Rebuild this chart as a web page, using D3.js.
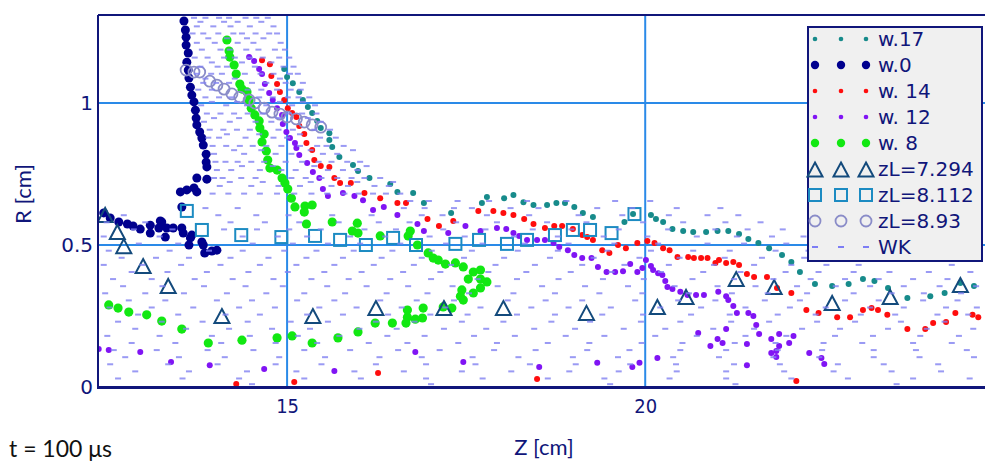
<!DOCTYPE html>
<html>
<head>
<meta charset="utf-8">
<style>
	body { margin: 0; background: #fff; }
	svg { display: block; }
</style>
</head>
<body>
<svg width="985" height="461"></svg>
<script src="https://d3js.org/d3.v7.min.js"></script>
<script>
	// series, [Z cm, R cm]
	var w17 = [ [14.96,1.120],[15.00,1.092],[15.08,1.070],[15.17,1.039],[15.22,1.011],[15.29,0.986],
		[15.35,0.965],[15.42,0.937],[15.47,0.912],[15.59,0.894],[15.59,0.870],[15.63,0.845],[15.73,0.810],
		[15.92,0.782],[15.99,0.761],[16.15,0.736],[16.44,0.715],[16.54,0.687],[16.76,0.683],[16.91,0.648],
		[17.29,0.613],[17.72,0.648],[17.79,0.669],[18.03,0.665],[18.16,0.676],[18.30,0.651],[18.44,0.641],
		[18.63,0.641],[18.76,0.648],[18.88,0.648],[19.01,0.634],[19.13,0.613],[19.27,0.599],[19.71,0.581],
		[19.83,0.609],[20.08,0.606],[20.15,0.592],[20.25,0.581],[20.38,0.556],[20.53,0.549],[20.67,0.546],
		[20.85,0.546],[21.01,0.549],[21.16,0.549],[21.31,0.539],[21.44,0.521],[21.58,0.507],[21.73,0.489],
		[21.91,0.465],[22.04,0.440],[22.16,0.405],[22.37,0.363],[22.61,0.356],[22.84,0.363],[23.04,0.380],
		[23.20,0.373],[23.39,0.349],[23.66,0.313],[23.98,0.320],[24.18,0.331],[24.40,0.366],[24.59,0.356] ];

	var w0 = [ [13.56,1.289],[13.58,1.257],[13.59,1.232],[13.59,1.204],[13.62,1.176],[13.60,1.144],
		[13.62,1.116],[13.63,1.088],[13.65,1.056],[13.67,1.028],[13.70,1.004],[13.72,0.975],[13.73,0.947],
		[13.74,0.923],[13.78,0.898],[13.81,0.877],[13.83,0.852],[13.87,0.820],[13.87,0.792],[13.88,0.775],
		[13.74,0.736],[13.88,0.732],[13.70,0.701],[13.60,0.694],[13.51,0.687],[13.74,0.687],[13.53,0.634],
		[12.44,0.613],[12.53,0.595],[12.65,0.581],[12.77,0.574],[12.85,0.567],[12.95,0.556],[13.09,0.570],
		[13.23,0.585],[13.25,0.581],[13.09,0.542],[13.21,0.560],[13.32,0.560],[13.30,0.528],[13.41,0.560],
		[13.53,0.560],[13.55,0.542],[13.67,0.535],[13.65,0.525],[13.63,0.500],[13.81,0.511],[13.83,0.500],
		[13.85,0.472],[13.95,0.479],[14.02,0.482] ];

	var w14 = [ [14.65,1.151],[14.76,1.137],[14.78,1.095],[14.86,1.067],[14.90,1.039],[14.96,1.011],
		[15.01,0.982],[15.07,0.965],[15.13,0.951],[15.17,0.919],[15.24,0.891],[15.27,0.859],[15.35,0.835],
		[15.38,0.799],[15.47,0.778],[15.59,0.775],[15.66,0.736],[15.74,0.718],[15.89,0.718],[16.08,0.683],
		[16.30,0.665],[16.54,0.648],[16.66,0.648],[16.96,0.592],[17.12,0.567],[17.32,0.585],[17.67,0.620],
		[17.88,0.620],[18.02,0.613],[18.16,0.606],[18.31,0.592],[18.44,0.574],[18.60,0.560],[18.73,0.567],
		[18.84,0.567],[18.99,0.556],[19.12,0.535],[19.19,0.528],[19.27,0.518],[19.40,0.482],[19.50,0.472],
		[19.62,0.500],[19.73,0.489],[19.89,0.507],[20.03,0.514],[20.13,0.507],[20.25,0.489],[20.34,0.482],
		[20.45,0.458],[20.60,0.458],[20.68,0.454],[20.78,0.454],[20.87,0.454],[20.98,0.437],[21.03,0.447],
		[21.13,0.437],[21.23,0.440],[21.31,0.430],[21.42,0.398],[21.52,0.387],[21.70,0.387],[21.84,0.349],
		[22.04,0.331],[22.25,0.271],[22.42,0.261],[22.68,0.246],[22.86,0.246],[23.04,0.271],[23.16,0.278],
		[23.25,0.271],[23.38,0.254],[23.66,0.204],[23.91,0.204],[24.02,0.225],[24.20,0.229],[24.33,0.261],
		[24.57,0.254],[24.65,0.246],
		[14.29,0.011],[15.10,0.018],[16.27,0.049],[18.49,0.028],[22.11,0.021] ];

	var w12 = [ [14.47,1.162],[14.54,1.148],[14.61,1.120],[14.65,1.102],[14.69,1.067],[14.75,1.035],
		[14.80,1.011],[14.86,0.982],[14.93,0.958],[14.94,0.926],[14.99,0.898],[15.04,0.877],[15.11,0.859],
		[15.13,0.842],[15.17,0.817],[15.28,0.789],[15.36,0.757],[15.45,0.736],[15.50,0.697],[15.57,0.673],
		[15.78,0.683],[15.94,0.673],[16.06,0.658],[16.20,0.623],[16.35,0.634],[16.54,0.606],[16.82,0.574],
		[16.91,0.549],[17.25,0.542],[17.49,0.567],[17.70,0.549],[17.93,0.560],[18.06,0.556],[18.16,0.542],
		[18.24,0.532],[18.35,0.518],[18.49,0.518],[18.60,0.518],[18.72,0.507],[18.80,0.493],[18.92,0.482],
		[19.01,0.465],[19.12,0.454],[19.25,0.454],[19.34,0.423],[19.46,0.405],[19.58,0.405],[19.69,0.408],
		[19.79,0.433],[19.89,0.405],[19.96,0.419],[20.01,0.447],[20.08,0.426],[20.11,0.412],[20.18,0.401],
		[20.24,0.394],[20.28,0.373],[20.31,0.352],[20.38,0.345],[20.49,0.335],[20.59,0.324],[20.71,0.324],
		[20.82,0.324],[21.02,0.335],[21.13,0.320],[21.16,0.306],[21.23,0.285],[21.28,0.261],[21.44,0.261],
		[21.51,0.250],[21.55,0.218],[21.59,0.187],[21.76,0.169],[21.87,0.187],[22.07,0.180],[22.01,0.155],
		[21.87,0.144],[21.83,0.127],[21.76,0.120],[21.83,0.106],[22.29,0.120],[22.46,0.102],[22.50,0.081],
		[21.13,0.204],[20.74,0.190],[21.01,0.169],[21.08,0.155],[20.91,0.144],[21.42,0.151],[21.42,0.077],
		[20.17,0.102],[19.92,0.085],[19.82,0.070],[19.33,0.085],[18.52,0.070],[17.46,0.088],[16.79,0.123],
		[15.66,0.056],[14.68,0.063],[13.92,0.077],[13.38,0.088],[12.95,0.123],[12.51,0.130],[12.37,0.134] ];

	var w8 = [ [14.16,1.222],[14.19,1.183],[14.20,1.162],[14.26,1.134],[14.29,1.102],[14.34,1.067],
		[14.37,1.049],[14.44,1.039],[14.47,1.011],[14.50,0.982],[14.55,0.958],[14.61,0.937],[14.62,0.912],
		[14.68,0.891],[14.65,0.863],[14.71,0.831],[14.73,0.799],[14.76,0.771],[14.86,0.764],[14.93,0.736],
		[14.97,0.718],[15.01,0.697],[15.06,0.665],[15.11,0.634],[15.25,0.637],[15.35,0.641],[15.24,0.616],
		[15.27,0.574],[15.63,0.581],[15.98,0.577],[15.91,0.549],[15.99,0.542],[16.30,0.532],[16.69,0.532],
		[16.72,0.549],[16.82,0.500],[16.97,0.472],[17.04,0.454],[17.11,0.447],[17.21,0.433],[17.35,0.437],
		[17.46,0.423],[17.60,0.405],[17.70,0.412],[17.53,0.380],[17.70,0.380],[17.79,0.370],[17.70,0.349],
		[17.60,0.331],[17.44,0.342],[17.42,0.320],[17.46,0.306],[17.30,0.278],[17.18,0.282],[16.90,0.278],
		[16.89,0.243],[16.79,0.239],[16.68,0.246],[16.68,0.271],[16.66,0.225],[16.47,0.225],[16.23,0.225],
		[15.99,0.194],[15.71,0.173],[15.35,0.155],[15.07,0.180],[14.86,0.173],[14.37,0.165],[13.90,0.155],
		[13.53,0.204],[13.25,0.232],[13.04,0.254],[12.79,0.264],[12.64,0.278],[12.51,0.289] ];

	var zL7294 = [ [12.46,0.606],[12.63,0.546],[12.72,0.496],[12.99,0.426],[13.34,0.356],[14.09,0.250],
		[15.36,0.250],[16.24,0.278],[17.19,0.278],[18.02,0.278],[19.18,0.261],[20.17,0.282],[20.57,0.317],
		[21.27,0.380],[21.80,0.352],[22.61,0.296],[23.42,0.317],[24.40,0.359] ];

	var zL8112 = [ [13.60,0.620],[13.81,0.553],[14.36,0.535],[14.92,0.528],[15.39,0.532],[15.74,0.518],
		[16.10,0.500],[16.48,0.525],[16.80,0.500],[17.35,0.504],[17.68,0.518],[18.07,0.504],[18.35,0.518],
		[18.74,0.535],[18.99,0.553],[19.23,0.553],[19.53,0.542],[19.85,0.609] ];

	var zL893 = [ [13.59,1.116],[13.70,1.109],[13.78,1.109],[13.92,1.077],[14.02,1.063],[14.12,1.049],
		[14.23,1.032],[14.34,1.021],[14.47,1.011],[14.55,1.000],[14.68,0.982],[14.79,0.968],[14.90,0.961],
		[15.00,0.951],[15.13,0.944],[15.24,0.933],[15.35,0.923],[15.47,0.915] ];

	// WK dashes, one row per R value: [R, [Z, Z, ...]]
	var wkRows = [
		[1.300, [13.70,13.86,14.05,14.19,14.42,14.57,14.73]],
		[1.286, [13.79,14.12,14.31,14.64]],
		[1.270, [13.74,13.97,14.21,14.48,14.81]],
		[1.245, [13.68,13.83,14.04,14.25,14.37,14.56,14.75,14.86]],
		[1.228, [13.90,14.16,14.44,14.67]],
		[1.212, [13.74,13.99,14.31,14.53,14.91]],
		[1.188, [13.81,14.07,14.20,14.43,14.60,14.83,14.97]],
		[1.160, [13.71,13.89,14.12,14.27,14.48,14.66,14.89,15.03]],
		[1.143, [13.95,14.37,14.78]],
		[1.128, [13.79,14.03,14.16,14.55,14.95,15.09]],
		[1.103, [13.74,13.94,14.09,14.41,14.63,14.81,15.04,15.15]],
		[1.086, [13.86,14.27,14.90]],
		[1.071, [13.83,14.01,14.19,14.51,14.71,14.98,15.22]],
		[1.047, [13.76,13.95,14.45,14.64,14.86,15.05,15.19]],
		[1.020, [13.86,14.05,14.22,14.61,14.80,15.01,15.16,15.31]],
		[1.004, [13.95,14.30,14.90,15.22]],
		[0.992, [13.80,14.15,14.44,14.71,15.07,15.39]],
		[0.963, [13.88,14.07,14.26,14.45,14.66,15.02,15.21,15.41]],
		[0.947, [13.98,14.33,14.88,15.29]],
		[0.934, [13.84,14.20,14.56,14.78,15.47]],
		[0.906, [13.92,14.11,14.30,14.48,14.88,15.08,15.38,15.60]],
		[0.890, [14.16,14.61,15.18]],
		[0.878, [13.90,14.05,14.42,14.81,15.00,15.46,15.68]],
		[0.849, [13.96,14.15,14.34,14.52,14.71,14.92,15.18,15.42,15.55,15.79]],
		[0.834, [14.26,14.64,15.33,15.92]],
		[0.821, [13.98,14.40,14.84,15.06,15.50,15.70]],
		[0.793, [14.00,14.14,14.31,14.50,14.68,14.98,15.21,15.44,15.62,15.84,16.02]],
		[0.778, [14.37,14.80,15.38,16.11]],
		[0.764, [14.02,14.22,14.62,14.92,15.12,15.57,15.78,15.98]],
		[0.736, [13.98,14.10,14.36,14.56,15.06,15.26,15.48,15.70,15.90,16.08,16.30]],
		[0.722, [14.20,14.66,15.33,15.98,16.48]],
		[0.708, [14.06,14.50,14.88,15.18,15.62,15.85,16.22,16.42]],
		[0.681, [13.96,14.18,14.40,14.62,14.86,15.10,15.34,15.56,15.80,16.00,16.20,16.38,16.58]],
		[0.655, [16.72,16.98,17.38,17.82,18.35,18.90,19.58,20.07]],
		[0.630, [13.86,14.31,16.63,16.92,17.33,17.58,18.12,18.51,19.33,19.82,20.44,21.05]],
		[0.605, [12.72,14.04,14.57,15.02,15.63,16.18,16.88,17.17,17.79,18.38,19.07,19.68,20.33,20.87,21.30]],
		[0.580, [12.48,13.02,14.21,14.69,15.17,15.72,16.28,16.71,17.36,17.93,18.63,19.18,19.97,20.53,21.12,21.61]],
		[0.555, [12.86,13.40,14.12,14.58,15.03,15.47,16.08,16.52,17.18,17.77,18.43,18.97,19.63,20.32,20.98,21.43,21.92]],
		[0.530, [12.44,13.22,14.38,14.87,15.28,15.88,16.37,16.99,17.48,18.17,18.78,19.42,20.03,20.72,21.28,21.77,22.21,22.66]],
		[0.505, [12.93,13.48,14.52,15.08,15.57,16.02,16.58,17.22,17.73,18.32,18.93,19.57,20.18,20.87,21.38,21.97,22.41,23.12]],
		[0.480, [12.51,13.36,13.91,14.38,14.96,15.41,15.93,16.47,17.02,17.58,18.22,18.78,19.47,20.08,20.67,21.18,21.82,22.28,22.77,23.35,23.91]],
		[0.455, [12.69,13.17,13.63,14.21,14.74,15.27,15.78,16.32,16.88,17.47,18.03,18.67,19.28,19.92,20.48,21.11,21.63,22.22,22.62,23.02,23.58,24.37]],
		[0.430, [12.44,12.98,13.52,14.07,14.62,15.13,15.66,16.21,16.77,17.29,17.91,18.46,19.12,19.71,20.33,20.96,21.52,22.04,22.53,22.98,24.28]],
		[0.405, [12.83,13.33,13.88,14.46,15.01,15.52,16.04,16.62,17.14,17.81,18.34,18.96,19.53,20.22,20.81,21.33,21.96,22.42,22.91,23.41,23.96,24.54]],
		[0.380, [12.57,13.11,13.71,14.24,14.81,15.34,15.86,16.44,17.01,17.66,18.21,18.79,19.41,19.98,20.66,21.24,21.79,22.31,22.79,23.26,23.74,24.22]],
		[0.355, [12.71,13.26,13.84,14.42,14.94,15.56,16.11,16.69,17.31,17.94,18.56,19.16,19.76,20.41,21.01,21.54,22.12,22.66,23.14,23.61,24.11,24.62]],
		[0.330, [12.46,13.02,13.56,14.16,14.71,15.24,15.81,16.39,16.96,17.54,18.16,18.74,19.36,19.96,20.61,21.21,21.71,22.26,22.91,23.44,23.89,24.41]],
		[0.305, [12.79,13.30,14.02,14.51,15.14,15.66,16.30,16.81,17.33,18.08,18.61,19.12,19.86,20.46,20.98,21.67,22.16,22.79,23.26,23.88,24.36]],
		[0.280, [12.52,13.11,13.69,14.33,14.83,15.45,15.97,16.60,17.21,17.70,18.41,18.93,19.52,20.21,20.78,21.40,22.02,22.52,23.14,23.61,24.20,24.63]],
		[0.255, [12.92,13.48,14.14,14.62,15.28,15.78,16.41,17.00,17.52,18.21,18.74,19.40,19.97,20.64,21.18,21.85,22.38,23.01,23.49,24.08,24.51]],
		[0.230, [12.64,13.25,13.82,14.45,15.05,15.57,16.24,16.78,17.44,18.02,18.69,19.23,19.94,20.49,21.20,21.73,22.40,22.93,23.57,24.18]],
		[0.205, [12.88,13.59,14.19,14.79,15.32,16.01,16.53,17.19,17.78,18.45,19.02,19.70,20.28,20.95,21.52,22.19,22.72,23.39,23.93,24.58]],
		[0.180, [12.49,13.22,13.95,14.48,15.15,15.73,16.40,16.92,17.61,18.18,18.89,19.43,20.14,20.72,21.40,21.97,22.65,23.18,23.84,24.38]],
		[0.155, [12.83,13.44,14.08,14.84,15.42,16.14,16.68,17.39,17.93,18.64,19.22,19.95,20.52,21.25,21.82,22.49,23.03,23.74,24.28]],
		[0.130, [12.58,13.18,13.89,14.53,15.24,15.88,16.55,17.13,17.89,18.47,19.19,19.78,20.49,21.13,21.85,22.47,23.19,23.78,24.49]],
		[0.105, [12.74,13.49,14.13,14.89,15.53,16.29,16.88,17.59,18.23,18.99,19.62,20.39,21.03,21.79,22.43,23.19,23.83,24.59]],
		[0.080, [12.53,13.34,14.03,14.84,15.48,16.24,16.94,17.63,18.39,19.03,19.79,20.43,21.24,21.88,22.69,23.33,24.09]],
		[0.055, [12.88,13.63,14.44,15.13,15.94,16.63,17.44,18.13,18.94,19.63,20.44,21.13,21.94,22.63,23.44,24.13]],
		[0.030, [12.64,13.54,14.33,15.24,16.03,16.94,17.73,18.64,19.43,20.34,21.13,22.04,22.83,23.74,24.53]],
		[0.010, [14.51,17.01,19.51,21.26,23.51]]
	];

	var zTicks = [15, 20];
	var rTicks = [0, 0.5, 1];
	var gridZ = [15, 20];
	var gridR = [0.5, 1];

	var legendNames = ["w.17", "w.0", "w. 14", "w. 12", "w. 8", "zL=7.294", "zL=8.112", "zL=8.93", "WK"];

	var navy = "#10167a", gridBlue = "#2a8ae8";

	var svg = d3.select("svg");
	var x = d3.scaleLinear().domain([12.36, 24.73]).range([98, 984]);
	var y = d3.scaleLinear().domain([0, 1.31]).range([387, 15]);

	svg.append("defs").append("clipPath").attr("id", "plotclip")
		.append("rect").attr("x", 98).attr("y", 15).attr("width", 887).attr("height", 372);

	// grid
	var grid = svg.append("g").attr("stroke", gridBlue).attr("stroke-width", 2);
	grid.selectAll(".gz").data(gridZ).enter().append("line")
		.attr("x1", function(d) { return x(d); }).attr("x2", function(d) { return x(d); })
		.attr("y1", y(1.31)).attr("y2", y(0));
	grid.selectAll(".gr").data(gridR).enter().append("line")
		.attr("x1", x(12.36)).attr("x2", 985)
		.attr("y1", function(d) { return y(d); }).attr("y2", function(d) { return y(d); });

	var plot = svg.append("g").attr("clip-path", "url(#plotclip)");

	function dots(data, r, color) {
		plot.append("g").attr("fill", color).selectAll("circle").data(data).enter().append("circle")
			.attr("cx", function(d) { return x(d[0]); })
			.attr("cy", function(d) { return y(d[1]); })
			.attr("r", r);
	}

	dots(w17, 3, "#178b8b");
	dots(w0, 4.5, "#00008e");
	dots(w14, 3, "#ff0d0d");
	dots(w12, 3, "#8014f4");
	dots(w8, 4.6, "#12e812");

	var triPath = "M0,-7L7.5,7L-7.5,7Z";
	plot.append("g").attr("fill", "none").attr("stroke", "#134a7c").attr("stroke-width", 2)
		.selectAll("path").data(zL7294).enter().append("path")
		.attr("d", triPath)
		.attr("transform", function(d) { return "translate(" + x(d[0]) + "," + y(d[1]) + ")"; });

	plot.append("g").attr("fill", "none").attr("stroke", "#1c8bc2").attr("stroke-width", 2)
		.selectAll("rect").data(zL8112).enter().append("rect")
		.attr("x", function(d) { return x(d[0]) - 6; })
		.attr("y", function(d) { return y(d[1]) - 6; })
		.attr("width", 12).attr("height", 12);

	plot.append("g").attr("fill", "none").attr("stroke", "#8a8cc8").attr("stroke-width", 1.8)
		.selectAll("circle").data(zL893).enter().append("circle")
		.attr("cx", function(d) { return x(d[0]); })
		.attr("cy", function(d) { return y(d[1]); })
		.attr("r", 5.5);

	var wk = [];
	wkRows.forEach(function(row) {
		row[1].forEach(function(z) { wk.push([z, row[0]]); });
	});
	plot.append("g").attr("fill", "#8282f2").attr("opacity", 0.8)
		.selectAll("rect").data(wk).enter().append("rect")
		.attr("x", function(d) { return x(d[0]) - 3; })
		.attr("y", function(d) { return y(d[1]) - 1; })
		.attr("width", 6).attr("height", 2);

	// frame
	var frame = svg.append("g").attr("stroke", navy).attr("fill", "none");
	frame.append("line").attr("x1", 98).attr("x2", 985).attr("y1", 15).attr("y2", 15).attr("stroke-width", 2);
	frame.append("line").attr("x1", 98).attr("x2", 98).attr("y1", 15).attr("y2", 388).attr("stroke-width", 2);
	frame.append("line").attr("x1", 97).attr("x2", 985).attr("y1", 387.5).attr("y2", 387.5).attr("stroke-width", 3);

	// axes (labels only)
	var ax = svg.append("g").attr("transform", "translate(0,387)")
		.call(d3.axisBottom(x).tickValues(zTicks).tickSize(0).tickPadding(12).tickFormat(d3.format("d")));
	ax.select(".domain").remove();
	ax.selectAll("text").attr("fill", navy).attr("font-size", "20px").attr("font-family", "DejaVu Sans Condensed, DejaVu Sans");

	var ay = svg.append("g").attr("transform", "translate(98,0)")
		.call(d3.axisLeft(y).tickValues(rTicks).tickSize(0).tickPadding(5).tickFormat(function(d) { return String(d); }));
	ay.select(".domain").remove();
	ay.selectAll("text").attr("fill", navy).attr("font-size", "20px").attr("font-family", "DejaVu Sans");

	svg.append("text").attr("x", 544).attr("y", 455).attr("text-anchor", "middle")
		.attr("font-family", "Lato, Open Sans, sans-serif").attr("font-size", "22px").attr("fill", navy)
		.text("Z [cm]");
	svg.append("text").attr("transform", "translate(31,194) rotate(-90)").attr("text-anchor", "middle")
		.attr("font-family", "Lato, Open Sans, sans-serif").attr("font-size", "22px").attr("fill", navy)
		.text("R [cm]");
	svg.append("text").attr("x", 9).attr("y", 457)
		.attr("font-family", "Lato, Open Sans, sans-serif").attr("font-size", "23px").attr("fill", "#111")
		.text("t = 100 \u03bcs");

	// legend
	var lg = svg.append("g");
	lg.append("rect").attr("x", 808).attr("y", 27).attr("width", 174).attr("height", 234)
		.attr("fill", "#f0f0f0").attr("stroke", navy).attr("stroke-width", 2);
	var mx = [815, 841, 866];
	var rowY = function(i) { return 39 + i * 26; };
	var legDots = [ ["#178b8b", 2.3], ["#00008e", 4.2], ["#ff0d0d", 2.3], ["#8014f4", 2.3], ["#12e812", 4.2] ];
	legDots.forEach(function(s, i) {
		lg.selectAll(null).data(mx).enter().append("circle")
			.attr("cx", function(d) { return d; }).attr("cy", rowY(i)).attr("r", s[1]).attr("fill", s[0]);
	});
	lg.selectAll(null).data(mx).enter().append("path").attr("d", triPath)
		.attr("transform", function(d) { return "translate(" + d + "," + (rowY(5) + 0.5) + ")"; })
		.attr("fill", "none").attr("stroke", "#134a7c").attr("stroke-width", 2);
	lg.selectAll(null).data(mx).enter().append("rect")
		.attr("x", function(d) { return d - 6; }).attr("y", rowY(6) - 6).attr("width", 12).attr("height", 12)
		.attr("fill", "none").attr("stroke", "#1c8bc2").attr("stroke-width", 2);
	lg.selectAll(null).data(mx).enter().append("circle")
		.attr("cx", function(d) { return d; }).attr("cy", rowY(7)).attr("r", 5.5)
		.attr("fill", "none").attr("stroke", "#8a8cc8").attr("stroke-width", 1.8);
	lg.selectAll(null).data(mx).enter().append("rect")
		.attr("x", function(d) { return d - 3; }).attr("y", rowY(8) - 1).attr("width", 6).attr("height", 2)
		.attr("fill", "#7d7df5");
	lg.selectAll(".lt").data(legendNames).enter().append("text")
		.attr("x", 878).attr("y", function(d, i) { return rowY(i) + 7; })
		.attr("font-family", "DejaVu Sans").attr("font-size", "20px").attr("fill", navy)
		.text(function(d) { return d; });
</script>
</body>
</html>
